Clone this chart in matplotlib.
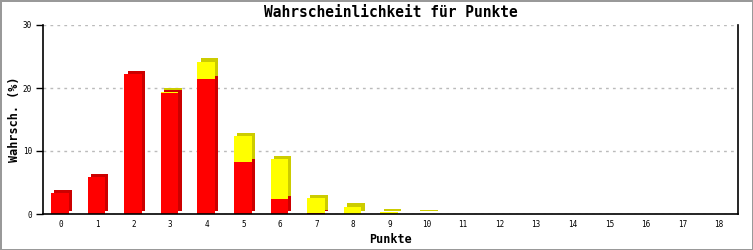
import matplotlib.pyplot as plt
from matplotlib.transforms import ScaledTranslation

# Daten
punkte = list(range(19))
rot = [3.3, 5.9, 22.2, 19.2, 21.4, 8.25, 2.4, 0.1, 0, 0, 0, 0, 0, 0, 0, 0, 0, 0, 0]
gelb = [0, 0, 0, 0.2, 2.8, 4.1, 6.3, 2.4, 1.15, 0.3, 0.05, 0, 0, 0, 0, 0, 0, 0, 0]
y_ticks = [0, 10, 20, 30]

fig = plt.figure(figsize=(7.53, 2.5), dpi=100)
fig.patch.set_edgecolor('#999999')
fig.patch.set_linewidth(2)
ax = fig.add_axes([0.0571, 0.144, 0.923, 0.756])

# 3D-Effekt: dunkle Rueckseite leicht versetzt hinter der Front
breite = 0.48
tiefe = ScaledTranslation(3.3 / 100, 3.3 / 100, fig.dpi_scale_trans)
x = [p - 0.02 for p in punkte]
summe = [r + g for r, g in zip(rot, gelb)]
ax.bar(x, summe, width=breite, color='#CCCC00', transform=ax.transData + tiefe,
       zorder=2, linewidth=0)
ax.bar(x, rot, width=breite, color='#CC0000', transform=ax.transData + tiefe,
       zorder=2, linewidth=0)
ax.bar(x, rot, width=breite, color='#FF0000', zorder=3, linewidth=0)
ax.bar(x, gelb, bottom=rot, width=breite, color='#FFFF00', zorder=3, linewidth=0)

ax.set_xlim(-0.48, 18.52)
ax.set_ylim(0, 30)
ax.set_xticks(punkte)
ax.set_xticklabels([str(p) for p in punkte], family='DejaVu Sans Mono', fontsize=5.5)
ax.set_yticks(y_ticks)
ax.set_yticklabels([str(v) for v in y_ticks], family='DejaVu Sans Mono', fontsize=5.5)
ax.tick_params(axis='x', length=0, pad=4)
ax.tick_params(axis='y', length=5, width=1, pad=3)
ax.grid(axis='y', linestyle=(0, (2, 3)), color='#BBBBBB', linewidth=1, zorder=1)
ax.spines['top'].set_visible(False)
for s in ['left', 'bottom', 'right']:
    ax.spines[s].set_linewidth(1.2)
    ax.spines[s].set_zorder(4)

ax.set_title('Wahrscheinlichkeit für Punkte', family='DejaVu Sans Mono',
             fontweight='bold', fontsize=10.5, pad=6)
ax.set_xlabel('Punkte', family='DejaVu Sans Mono', fontweight='bold', fontsize=8.5,
              labelpad=3)
ax.set_ylabel('Wahrsch. (%)', family='DejaVu Sans Mono', fontweight='bold', fontsize=8.5,
              labelpad=1)

plt.savefig('out.png', dpi=100)
plt.close()
